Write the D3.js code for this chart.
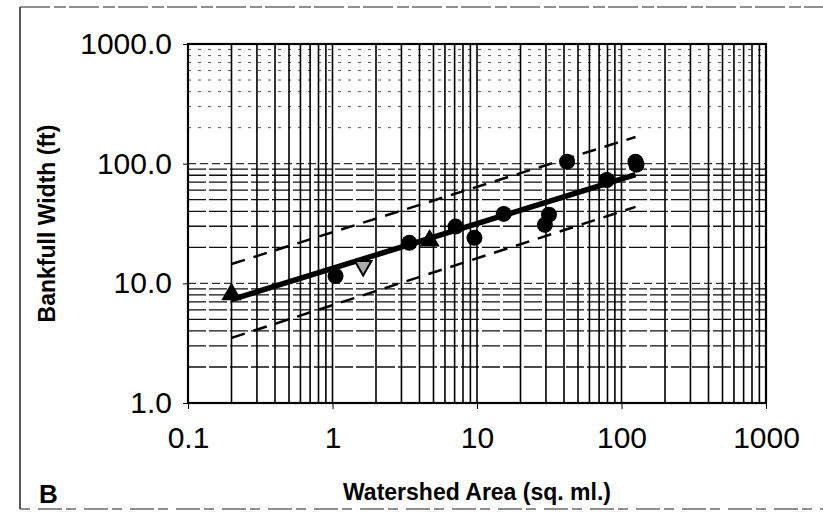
<!DOCTYPE html>
<html>
<head>
<meta charset="utf-8">
<script src="https://cdn.jsdelivr.net/npm/d3@7"></script>
<style>
  html, body { margin: 0; padding: 0; background: #fff; }
  svg { display: block; font-family: Arial, "Liberation Sans", sans-serif; }
</style>
</head>
<body>
<svg id="chart" width="823" height="516"></svg>
<script>
// ---- data ----
const circleArea  = [1.05, 3.4, 7.1, 9.6, 15.3, 42, 29.5, 31.5, 79, 127, 125];
const circleWidth = [11.5, 21.8, 29.8, 24, 38, 104, 30.8, 37.5, 73, 98, 104];
const triangleArea  = [0.2, 4.7];
const triangleWidth = [8.1, 22.7];
const openArea  = [1.63];
const openWidth = [14.0];
const fitArea   = [0.2, 125];
const fitWidth  = [7.3, 81];
const upperWidth = [14.5, 167];
const lowerWidth = [3.5, 43.5];
const xTicks = [0.1, 1, 10, 100, 1000];
const yTicks = [1, 10, 100, 1000];
const xTitle = "Watershed Area (sq. ml.)";
const yTitle = "Bankfull Width (ft)";
const panelLabel = "B";

// ---- layout ----
const svg = d3.select("#chart");
const L = 188, R = 766, T = 44, B = 403;
const x = d3.scaleLog().domain([0.1, 1000]).range([L, R]);
const y = d3.scaleLog().domain([1, 1000]).range([B, T]);

// outer frame (scanned page border)
const frame = svg.append("g").attr("stroke", "#222").attr("fill", "none");
frame.append("line").attr("x1", 20).attr("x2", 20).attr("y1", 7).attr("y2", 509).attr("stroke-width", 1.5);
frame.append("line").attr("x1", 20).attr("x2", 823).attr("y1", 7).attr("y2", 7)
  .attr("stroke-width", 1.2).attr("stroke-dasharray", "30,4,12,3");
frame.append("line").attr("x1", 20).attr("x2", 823).attr("y1", 509).attr("y2", 509)
  .attr("stroke-width", 1.2).attr("stroke-dasharray", "10,8,24,4");

// grid values
const gridVals = [];
for (let d = 0.1; d < 1000; d *= 10) for (let k = 1; k <= 9; k++) gridVals.push(+(d * k).toPrecision(3));
const gridY = [];
for (let d = 1; d < 1000; d *= 10) for (let k = 2; k <= 9; k++) gridY.push(d * k);

// horizontal grid lines
svg.append("g").selectAll("line").data(gridY).join("line")
  .attr("x1", L).attr("x2", R)
  .attr("y1", d => y(d)).attr("y2", d => y(d))
  .attr("stroke", d => d >= 100 ? "#555" : "#111")
  .attr("stroke-width", d => d >= 100 ? 1 : 1.3)
  .attr("stroke-dasharray", d => d >= 100 ? "3,7" : "18,3");
// major horizontal lines (10, 100)
svg.append("g").selectAll("line").data([10, 100]).join("line")
  .attr("x1", L).attr("x2", R)
  .attr("y1", d => y(d)).attr("y2", d => y(d))
  .attr("stroke", "#333").attr("stroke-width", 1.2).attr("stroke-dasharray", "8,4");

// vertical grid lines
svg.append("g").selectAll("line").data(gridVals.filter(v => v > 0.1)).join("line")
  .attr("x1", d => x(d)).attr("x2", d => x(d))
  .attr("y1", T).attr("y2", B)
  .attr("stroke", "#000").attr("stroke-width", 1.6);

// plot border
svg.append("rect").attr("x", L).attr("y", T).attr("width", R - L).attr("height", B - T)
  .attr("fill", "none").attr("stroke", "#000").attr("stroke-width", 2.2);

// axes
const xAxis = d3.axisBottom(x).tickValues(xTicks).tickSize(6).tickPadding(18)
  .tickFormat(d => d < 1 ? d.toFixed(1) : d3.format("d")(d));
const gx = svg.append("g").attr("transform", `translate(0,${B})`).call(xAxis);
gx.select(".domain").remove();
gx.selectAll("text").attr("font-size", 30).attr("fill", "#000");
gx.selectAll("line").attr("stroke", "#000");

const yAxis = d3.axisLeft(y).tickValues(yTicks).tickSize(5).tickPadding(11)
  .tickFormat(d => d3.format(".1f")(d));
const gy = svg.append("g").attr("transform", `translate(${L},0)`).call(yAxis);
gy.select(".domain").remove();
gy.selectAll("text").attr("font-size", 30).attr("fill", "#000");
gy.selectAll("line").attr("stroke", "#000");

// titles
svg.append("text").attr("x", (L + R) / 2).attr("y", 500).attr("text-anchor", "middle")
  .attr("font-size", 23).attr("font-weight", "bold").text(xTitle);
svg.append("text").attr("transform", `translate(55,${(T + B) / 2}) rotate(-90)`)
  .attr("text-anchor", "middle").attr("font-size", 23).attr("font-weight", "bold").text(yTitle);
svg.append("text").attr("x", 39).attr("y", 503).attr("font-size", 26).attr("font-weight", "bold").text(panelLabel);

// regression and bounds
const line = d3.line().x(d => x(d[0])).y(d => y(d[1]));
svg.append("path").datum(d3.zip(fitArea, upperWidth)).attr("d", line)
  .attr("fill", "none").attr("stroke", "#000").attr("stroke-width", 2.5).attr("stroke-dasharray", "14,9");
svg.append("path").datum(d3.zip(fitArea, lowerWidth)).attr("d", line)
  .attr("fill", "none").attr("stroke", "#000").attr("stroke-width", 2.5).attr("stroke-dasharray", "14,9");
svg.append("path").datum(d3.zip(fitArea, fitWidth)).attr("d", line)
  .attr("fill", "none").attr("stroke", "#000").attr("stroke-width", 5.5);

// points
svg.append("g").selectAll("circle").data(d3.zip(circleArea, circleWidth)).join("circle")
  .attr("cx", d => x(d[0])).attr("cy", d => y(d[1])).attr("r", 8).attr("fill", "#000");
const tri = d3.symbol().type(d3.symbolTriangle).size(180);
svg.append("g").selectAll("path").data(d3.zip(triangleArea, triangleWidth)).join("path")
  .attr("d", tri).attr("transform", d => `translate(${x(d[0])},${y(d[1])})`).attr("fill", "#000");
svg.append("g").selectAll("path").data(d3.zip(openArea, openWidth)).join("path")
  .attr("d", d3.symbol().type(d3.symbolTriangle).size(120))
  .attr("transform", d => `translate(${x(d[0])},${y(d[1])}) rotate(180)`)
  .attr("fill", "#aaa").attr("stroke", "#000").attr("stroke-width", 2);
</script>
</body>
</html>
